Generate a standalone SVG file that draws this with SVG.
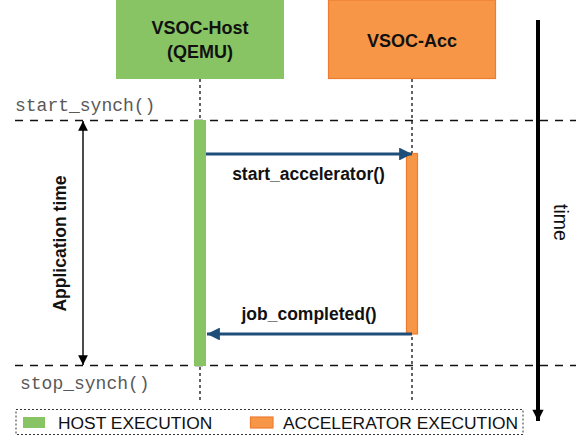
<svg xmlns="http://www.w3.org/2000/svg" width="576" height="440" viewBox="0 0 576 440">
<style>
.title{font-family:"Liberation Sans",Arial,sans-serif;font-weight:bold;font-size:18px;fill:#111;text-anchor:middle}
.msg{font-family:"Liberation Sans",Arial,sans-serif;font-weight:bold;font-size:17.5px;fill:#111;text-anchor:middle}
.mono{font-family:"Liberation Mono","Courier New",monospace;font-size:18px;fill:#595959}
.leg{font-family:"Liberation Sans",Arial,sans-serif;font-size:17.4px;fill:#111}
.life{stroke:#222;stroke-width:1.4;stroke-dasharray:3,3;fill:none}
.sync{stroke:#111;stroke-width:1.4;stroke-dasharray:8,7;fill:none}
.call{stroke:#1F4E79;stroke-width:3;fill:none}
.green{fill:#88C463}
.orange{fill:#F79646;stroke:#ED7D31;stroke-width:1.2}
</style>
<defs>
<marker id="blueHead" viewBox="0 0 10 10" refX="10" refY="5" markerWidth="4.3" markerHeight="4.3" markerUnits="strokeWidth" orient="auto">
<path d="M0,0 L10,5 L0,10 z" fill="#1F4E79"/>
</marker>
<marker id="blackHead" viewBox="0 0 10 10" refX="10" refY="5" markerWidth="7" markerHeight="7" markerUnits="strokeWidth" orient="auto-start-reverse">
<path d="M0,0 L10,5 L0,10 z" fill="#000"/>
</marker>
<marker id="timeHead" viewBox="0 0 10 10" refX="10" refY="5" markerWidth="3" markerHeight="2.8" markerUnits="strokeWidth" orient="auto">
<path d="M0,0 L10,5 L0,10 z" fill="#000"/>
</marker>
</defs>

<g id="lifelines">
<line class="life" x1="200" y1="79" x2="200" y2="400"/>
<line class="life" x1="412" y1="79" x2="412" y2="400"/>
</g>

<g id="sync-lines">
<line class="sync" x1="15" y1="120.5" x2="576" y2="120.5"/>
<line class="sync" x1="15" y1="365.5" x2="576" y2="365.5"/>
<text class="mono" x="15" y="111">start_synch()</text>
<text class="mono" x="20" y="389">stop_synch()</text>
</g>

<g id="host">
<rect class="green" x="116" y="0" width="168" height="79"/>
<text class="title" x="200" y="34">VSOC-Host</text>
<text class="title" x="200" y="58">(QEMU)</text>
</g>

<g id="acc">
<rect class="orange" x="328.5" y="0" width="167" height="78.5"/>
<text class="title" x="412" y="47">VSOC-Acc</text>
</g>

<g id="host-activation">
<rect class="green" x="194" y="120" width="12" height="246"/>
</g>

<g id="acc-activation">
<rect class="orange" x="406.5" y="153.5" width="11" height="180.5"/>
</g>

<g id="connectors">
<line class="call" x1="206" y1="154" x2="412" y2="154" marker-end="url(#blueHead)"/>
<line class="call" x1="412" y1="334" x2="207" y2="334" marker-end="url(#blueHead)"/>
<line stroke="#000" stroke-width="1.4" x1="83" y1="121" x2="83" y2="365" marker-start="url(#blackHead)" marker-end="url(#blackHead)"/>
<line stroke="#000" stroke-width="4" x1="538" y1="20" x2="538" y2="421" marker-end="url(#timeHead)"/>
</g>

<g id="labels">
<text class="msg" x="308.5" y="180">start_accelerator()</text>
<text class="msg" x="309" y="320">job_completed()</text>
<text class="msg" transform="translate(66,243.5) rotate(-90)" x="0" y="0">Application time</text>
<text font-family="Liberation Sans, Arial, sans-serif" font-size="19.5" fill="#111" text-anchor="middle" transform="translate(554,222.5) rotate(90)" x="0" y="0">time</text>
</g>

<g id="legend">
<rect x="16" y="409.5" width="507" height="25" fill="none" stroke="#333" stroke-width="1" stroke-dasharray="2,2"/>
<rect class="green" x="23" y="417" width="22" height="11"/>
<text class="leg" x="58" y="429">HOST EXECUTION</text>
<rect class="orange" x="250.5" y="417" width="22.5" height="11"/>
<text class="leg" x="283" y="429">ACCELERATOR EXECUTION</text>
</g>
</svg>
